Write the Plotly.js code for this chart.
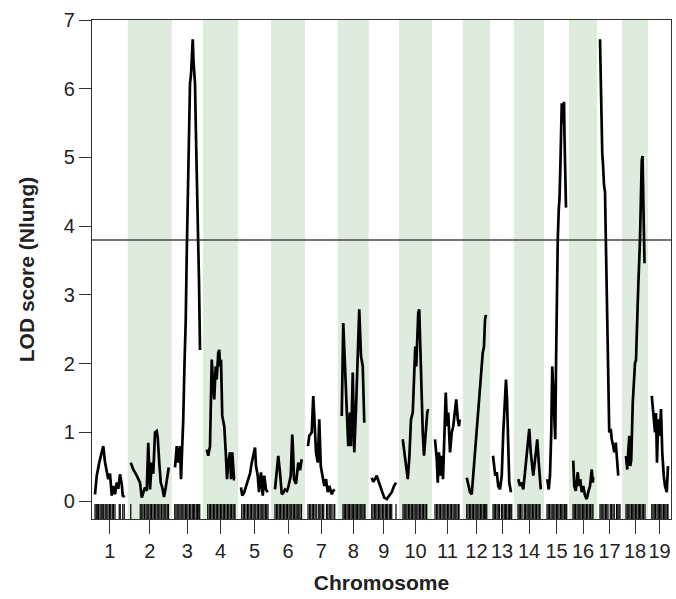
<!DOCTYPE html>
<html><head><meta charset="utf-8">
<script src="https://cdn.plot.ly/plotly-3.0.1.min.js"></script>
<style>html,body{margin:0;padding:0;background:#fff;}</style>
</head><body><div id="chart" style="width:676px;height:599px;"></div>
<script>
const chromosomes = ["1","2","3","4","5","6","7","8","9","10","11","12","13","14","15","16","17","18","19"];
const chromLengths = [119,152,101,116,108,112,107,100,97,108,99,85,72,96,76,88,76,80,68];
const gap = 24;
const threshold = 3.8;

const pos1 = [0,7,17,23,33,40,47,53,60,67,73,80,87,93,100,107,111,119];
const lod1 = [0.10,0.37,0.56,0.66,0.80,0.57,0.45,0.32,0.40,0.08,0.22,0.10,0.27,0.18,0.39,0.25,0.08,0.06];
const pos2 = [0,10,24,37,44,50,57,64,70,77,84,90,97,104,108,114,120,126,133,140,146,152];
const lod2 = [0.56,0.46,0.37,0.27,0.05,0.12,0.20,0.15,0.85,0.17,0.56,0.40,1.00,1.02,0.92,0.56,0.27,0.20,0.06,0.20,0.37,0.49];
const pos3 = [1,8,14,21,25,30,34,39,44,48,51,54,57,61,65,68,72,75,78,81,85,88,91,94,97,101];
const lod3 = [0.49,0.80,0.56,0.80,0.32,0.70,1.19,2.00,2.64,3.60,4.20,4.87,5.30,6.08,6.20,6.55,6.72,6.40,6.10,6.08,5.30,4.87,4.20,3.61,3.20,2.20];
const pos4 = [3,9,16,23,29,33,39,43,49,53,56,60,65,73,79,84,89,96,100,105,112,116];
const lod4 = [0.75,0.66,0.80,2.06,1.67,1.48,1.96,1.77,2.16,2.20,1.96,2.06,1.24,1.09,0.71,0.32,0.56,0.71,0.32,0.71,0.32,0.32];
const pos5 = [0,5,12,20,27,36,43,49,56,60,67,72,80,87,93,100,107];
const lod5 = [0.20,0.08,0.12,0.22,0.32,0.40,0.56,0.66,0.78,0.51,0.37,0.13,0.42,0.08,0.37,0.17,0.13];
const pos6 = [4,11,17,24,31,37,44,52,57,67,73,76,80,88,97,104,111];
const lod6 = [0.17,0.51,0.66,0.42,0.10,0.12,0.17,0.15,0.20,0.37,0.97,0.75,0.32,0.25,0.56,0.45,0.61];
const pos7 = [0,5,15,21,25,32,39,45,51,59,65,72,79,85,95,101,107];
const lod7 = [0.80,0.95,1.00,1.53,1.24,0.71,0.56,1.19,0.51,0.37,0.22,0.32,0.13,0.22,0.10,0.15,0.17];
const pos8 = [4,10,17,24,30,37,41,48,54,61,68,74,81,88,94];
const lod8 = [1.24,2.59,1.96,1.38,0.80,1.29,0.80,1.87,0.71,1.34,2.06,2.79,2.11,1.96,1.14];
const pos9 = [0,6,13,20,26,33,40,46,50,60,69,80,89,97];
const lod9 = [0.34,0.28,0.32,0.37,0.30,0.22,0.13,0.08,0.05,0.03,0.08,0.13,0.22,0.27];
const pos10 = [3,9,16,23,29,36,43,49,53,57,61,65,69,73,77,83,88,95,101,105];
const lod10 = [0.90,0.71,0.51,0.32,0.61,1.19,1.29,1.77,2.25,1.96,2.35,2.74,2.79,2.25,1.58,1.00,0.66,1.09,1.29,1.34];
const pos11 = [0,7,11,16,21,27,32,37,43,48,53,60,67,73,80,85,91,96,99];
const lod11 = [0.90,0.61,0.27,0.71,0.37,0.66,0.32,1.00,1.58,1.09,1.29,0.71,1.00,1.09,1.29,1.48,1.19,1.09,1.19];
const pos12 = [4,10,17,24,30,37,44,50,57,64,68,73,77,81];
const lod12 = [0.34,0.22,0.13,0.10,0.37,0.71,1.09,1.38,1.67,1.96,2.16,2.25,2.64,2.71];
const pos13 = [0,4,9,15,21,28,35,41,47,52,56,60,65,72];
const lod13 = [0.66,0.51,0.37,0.42,0.22,0.17,0.37,1.00,1.48,1.77,1.48,0.90,0.27,0.13];
const pos14 = [5,12,19,25,32,39,45,49,55,60,65,71,76,81,87,92,95];
const lod14 = [0.32,0.22,0.27,0.17,0.42,0.71,1.00,1.05,0.71,0.51,0.37,0.56,0.71,0.90,0.56,0.22,0.17];
const pos15 = [1,7,12,17,21,25,29,33,36,39,43,47,50,53,56,59,61,64,68,70,72,76];
const lod15 = [0.32,0.17,0.37,1.00,1.96,1.67,1.38,0.90,1.96,2.93,3.80,4.24,4.40,4.80,5.50,5.79,5.50,5.70,5.81,5.30,5.06,4.27];
const pos16 = [5,9,15,23,28,33,39,45,52,59,65,72,79,83,85];
const lod16 = [0.59,0.22,0.15,0.42,0.22,0.32,0.13,0.22,0.08,0.03,0.13,0.22,0.46,0.27,0.35];
const pos17 = [0,2,4,7,9,12,13,16,20,24,28,32,34,37,43,47,53,57,63,67,73];
const lod17 = [6.72,6.40,6.08,5.20,5.06,4.90,4.67,4.60,4.50,3.60,2.60,1.50,1.15,1.00,1.05,0.90,0.80,0.71,0.85,0.66,0.37];
const pos18 = [4,9,13,17,21,25,31,36,40,44,48,53,60,64,67,70,73,76,78];
const lod18 = [0.66,0.46,0.71,0.95,0.51,0.60,1.43,1.82,2.01,2.05,2.64,3.12,3.80,4.58,4.96,5.02,4.58,4.09,3.46];
const pos19 = [3,7,12,16,20,24,29,35,40,45,51,56,63,68];
const lod19 = [1.53,1.38,1.24,1.00,1.28,0.56,1.19,0.95,1.34,0.71,0.37,0.22,0.13,0.51];

const markers1 = [0,5,9,14,20,25,31,35,41,47,52,58,63,69,74,80,97,101,111,117];
const markers2 = [0,38,44,49,55,61,66,72,78,83,89,95,100,106,112,117,123,129,134,140,146,151];
const markers3 = [0,5,10,16,21,26,32,37,43,48,53,59,64,70,75,80,86,91,96,100];
const markers4 = [7,13,18,24,30,35,41,46,52,58,63,69,74,80,86,91,97,102,108,113,116];
const markers5 = [3,9,14,20,26,31,37,42,48,53,59,65,70,76,81,87,92,98,103,108];
const markers6 = [4,10,15,21,26,32,38,43,49,54,60,65,71,77,82,88,93,99,104,110];
const markers7 = [0,6,11,17,22,28,33,41,47,52,58,63,74,79,85,91,96,104,107];
const markers8 = [9,14,19,25,30,35,41,46,51,57,62,67,73,78,84,89,94,97];
const markers9 = [0,5,11,16,21,27,32,37,43,48,54,59,64,70,75,80,97];
const markers10 = [4,9,15,20,26,31,37,42,48,53,59,64,70,75,81,86,92,97,99];
const markers11 = [0,6,11,17,22,28,33,39,44,50,55,61,66,72,77,83,88,94,96];
const markers12 = [4,9,15,20,26,31,37,42,48,53,59,64,70,75,80,84];
const markers13 = [0,5,10,16,21,26,34,39,45,50,55,61,66,71,75];
const markers14 = [4,9,14,20,29,34,40,45,51,56,62,67,73,78,84,89,92];
const markers15 = [0,5,10,16,21,27,32,38,43,48,54,59,64,70,75,79];
const markers16 = [4,9,14,20,25,31,36,42,47,52,58,63,69,74,80,84];
const markers17 = [0,5,11,16,22,27,32,41,46,52,57,66,71,76,80];
const markers18 = [4,9,15,20,26,31,36,42,47,53,58,63,69,74,80];
const markers19 = [3,8,13,18,24,29,34,39,44,50,55,60,65,68];

const posList = [pos1,pos2,pos3,pos4,pos5,pos6,pos7,pos8,pos9,pos10,pos11,pos12,pos13,pos14,pos15,pos16,pos17,pos18,pos19];
const lodList = [lod1,lod2,lod3,lod4,lod5,lod6,lod7,lod8,lod9,lod10,lod11,lod12,lod13,lod14,lod15,lod16,lod17,lod18,lod19];
const markerList = [markers1,markers2,markers3,markers4,markers5,markers6,markers7,markers8,markers9,markers10,markers11,markers12,markers13,markers14,markers15,markers16,markers17,markers18,markers19];

const starts = [];
let acc = 0;
chromLengths.forEach(L => { starts.push(acc); acc += L + gap; });
const xMax = acc - gap / 2;

const traces = [];
const shapes = [];
const tickvals = [];
chromosomes.forEach((c, i) => {
  const s = starts[i], L = chromLengths[i];
  tickvals.push(s + L / 2);
  if (i % 2 === 1) {
    shapes.push({type:'rect', xref:'x', yref:'paper', x0:s - gap/2, x1:s + L + gap/2, y0:0, y1:1,
      fillcolor:'#deecdd', line:{width:0}, layer:'below'});
  }
  traces.push({
    x: posList[i].map(p => s + p), y: lodList[i], type:'scatter', mode:'lines',
    line:{color:'#000', width:2.7}, hoverinfo:'skip', showlegend:false
  });
});
shapes.push({type:'line', xref:'paper', yref:'y', x0:0, x1:1, y0:threshold, y1:threshold,
  line:{color:'#444', width:1.4}, layer:'below'});

const rugX = [];
markerList.forEach((m, i) => m.forEach(p => rugX.push(starts[i] + p)));
traces.push({
  x: rugX, y: rugX.map(() => -0.165), type:'scatter', mode:'markers',
  marker:{symbol:'line-ns', size:12, line:{width:1.2, color:'#000'}, color:'#000'},
  hoverinfo:'skip', showlegend:false
});

const font = 'Liberation Sans, Arial, Helvetica, sans-serif';
const layout = {
  width:676, height:599,
  margin:{l:92, r:5, t:20, b:80},
  paper_bgcolor:'#fff', plot_bgcolor:'#fff',
  font:{family:font, color:'#222', size:20},
  showlegend:false,
  xaxis:{
    range:[-gap/2, xMax], tickmode:'array', tickvals:tickvals, ticktext:chromosomes,
    ticks:'outside', ticklen:14, tickwidth:1, tickcolor:'#333',
    showline:true, mirror:true, linecolor:'#333', linewidth:1.2,
    showgrid:false, zeroline:false, fixedrange:true,
    tickfont:{family:font, size:20, color:'#222'},
    title:{text:'<b>Chromosome</b>', font:{family:font, size:21, color:'#222'}, standoff:14}
  },
  yaxis:{
    range:[-0.26, 7.0], tickmode:'array', tickvals:[0,1,2,3,4,5,6,7],
    ticks:'outside', ticklen:12, tickwidth:1, tickcolor:'#333',
    showline:true, mirror:true, linecolor:'#333', linewidth:1.2,
    showgrid:false, zeroline:false, fixedrange:true,
    tickfont:{family:font, size:20, color:'#222'},
    title:{text:'<b>LOD score (Nlung)</b>', font:{family:font, size:21, color:'#222'}, standoff:23}
  },
  shapes: shapes
};
Plotly.newPlot('chart', traces, layout, {displayModeBar:false, staticPlot:true});
</script></body></html>
